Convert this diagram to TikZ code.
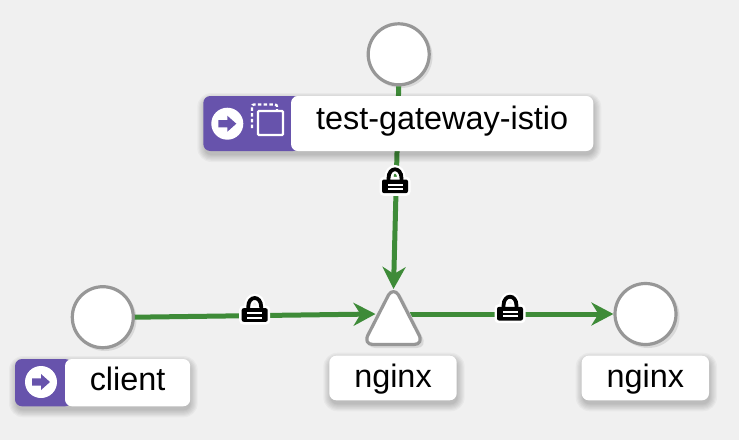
\documentclass[tikz,border=0pt]{standalone}
\usepackage{fontspec}
\setmainfont{Liberation Sans}
\usetikzlibrary{arrows.meta}
\definecolor{bgc}{HTML}{F0F0F0}
\definecolor{purp}{HTML}{6753AC}
\definecolor{edgec}{HTML}{3E8B38}
\definecolor{ringc}{HTML}{979797}
\definecolor{crescent}{HTML}{D9D9D9}
\tikzset{
  x=1pt,y=-1pt,
  svc/.style={circle,draw=ringc,line width=3.2pt,fill=white,minimum size=61pt,inner sep=0pt},
  svcshadow/.style={fill=crescent},
  lbl/.style 2 args={fill=white,rounded corners=7pt,inner sep=0pt,minimum width=#1,minimum height=#2,
    font=\fontsize{32.4}{36}\selectfont,text depth=0pt},
  conn/.style={draw=edgec,line width=5pt,-{Stealth[length=22pt,width=23pt,inset=7pt]}},
  badge/.style={fill=purp},
  iconmark/.style={fill=white},
  iconarrow/.style={fill=purp},
  stripe/.style={fill=white},
}
\newcommand{\softbox}[4]{%
  \foreach \s in {7,5.8,4.6,3.4,2.2,1,0}{
    \pgfmathsetmacro{\rr}{7+\s}
    \fill[black,opacity=0.03,rounded corners=\rr pt] (#1+1-\s,#2+4-\s) rectangle (#3+1+\s,#4+4+\s);
  }}
\newcommand{\arrowicon}[2]{%
  \fill[iconmark] (#1,#2) circle [radius=16];
  \fill[iconarrow] (#1-9,#2-3.6) -- (#1,#2-3.6) -- (#1,#2-8) -- (#1+9,#2) -- (#1,#2+8) -- (#1,#2+3.6) -- (#1-9,#2+3.6) -- cycle;}
\newcommand{\lockmark}[2]{%
  \begin{scope}[shift={(#1,#2)}]
    \draw[white,line width=8.5pt] (-6.5,-6) -- (-6.5,-8) .. controls (-6.5,-20) and (6.5,-20) .. (6.5,-8) -- (6.5,-6);
    \fill[white,rounded corners=4pt] (-15.5,-9.5) rectangle (15.5,9.5);
    \draw[black,line width=3.8pt] (-6.5,-6) -- (-6.5,-8) .. controls (-6.5,-20) and (6.5,-20) .. (6.5,-8) -- (6.5,-6);
    \fill[black,rounded corners=2pt] (-13,-6.8) rectangle (13,6.8);
    \fill[stripe] (-7.5,-2.6) rectangle (7.5,-0.6);
    \fill[stripe] (-7.5,1.6) rectangle (7.5,3.6);
  \end{scope}}
\newcommand{\tripath}{(388.5,295) .. controls (391,290.5) and (396,290.5) .. (398.5,295) -- (418.5,334) .. controls (422,340) and (420,344.5) .. (414,344.5) -- (373,344.5) .. controls (367,344.5) and (365,340) .. (368.5,334) -- cycle}
\begin{document}
\begin{tikzpicture}
\useasboundingbox (0,0) rectangle (739,440);
\fill[bgc] (0,0) rectangle (739,440);

% circle shadows
\fill[svcshadow] (401,56.5) circle [radius=31.5];
\fill[svcshadow] (105,319.5) circle [radius=31.5];
\fill[svcshadow] (648,316.5) circle [radius=31.5];

% service nodes and anchors
\node[svc] (gw) at (398.7,54.3) {};
\node[svc] (cl) at (102.8,317.2) {};
\node[svc] (dst) at (645.5,314) {};
\coordinate (tritop) at (393.5,289);
\coordinate (trileft) at (375.5,314);
\coordinate (triright) at (410,314);

% connectors
\draw[conn] (gw.south) -- (tritop);
\draw[conn] (cl.east) -- (trileft);
\draw[conn] (triright) -- (dst.west);

% triangle
\begin{scope}[shift={(2.5,2.5)}]
  \draw[crescent,fill=crescent,line width=2pt] \tripath;
\end{scope}
\draw[ringc,fill=white,line width=3.2pt,line join=round] \tripath;

% labels
\softbox{203.3}{96}{593.3}{151}
\fill[badge,rounded corners=7pt] (203.3,96) rectangle (300,151);
\node[lbl={302.3pt}{55pt},text height=11.6pt] (gwlbl) at (442.15,123.5) {test-gateway-istio};
\arrowicon{227.3}{123.7}
\draw[white,line width=2.3pt,dash pattern=on 3.5pt off 2.2pt,rounded corners=2pt] (252,128) -- (252,104.5) -- (277,104.5) -- (277,110);
\fill[purp] (258,111) rectangle (283,135);
\draw[white,line width=2.3pt,rounded corners=1pt] (258,111) rectangle (283,135);

\softbox{15}{359}{189.7}{406.3}
\fill[badge,rounded corners=7pt] (15,359) rectangle (72,406.3);
\node[lbl={125.2pt}{47.3pt},text height=16.4pt] (cllbl) at (127.6,382.65) {client};
\arrowicon{41}{382}

\softbox{329.3}{355.7}{456.7}{400.3}
\node[lbl={127.4pt}{44.6pt},text height=18.6pt] (nlbl) at (393,378) {nginx};

\softbox{581.7}{355.7}{709}{400.3}
\node[lbl={127.3pt}{44.6pt},text height=18.6pt] (dlbl) at (645.35,378) {nginx};

% locks
\lockmark{395}{186.3}
\lockmark{254.7}{315}
\lockmark{510}{313.7}
\end{tikzpicture}
\end{document}
